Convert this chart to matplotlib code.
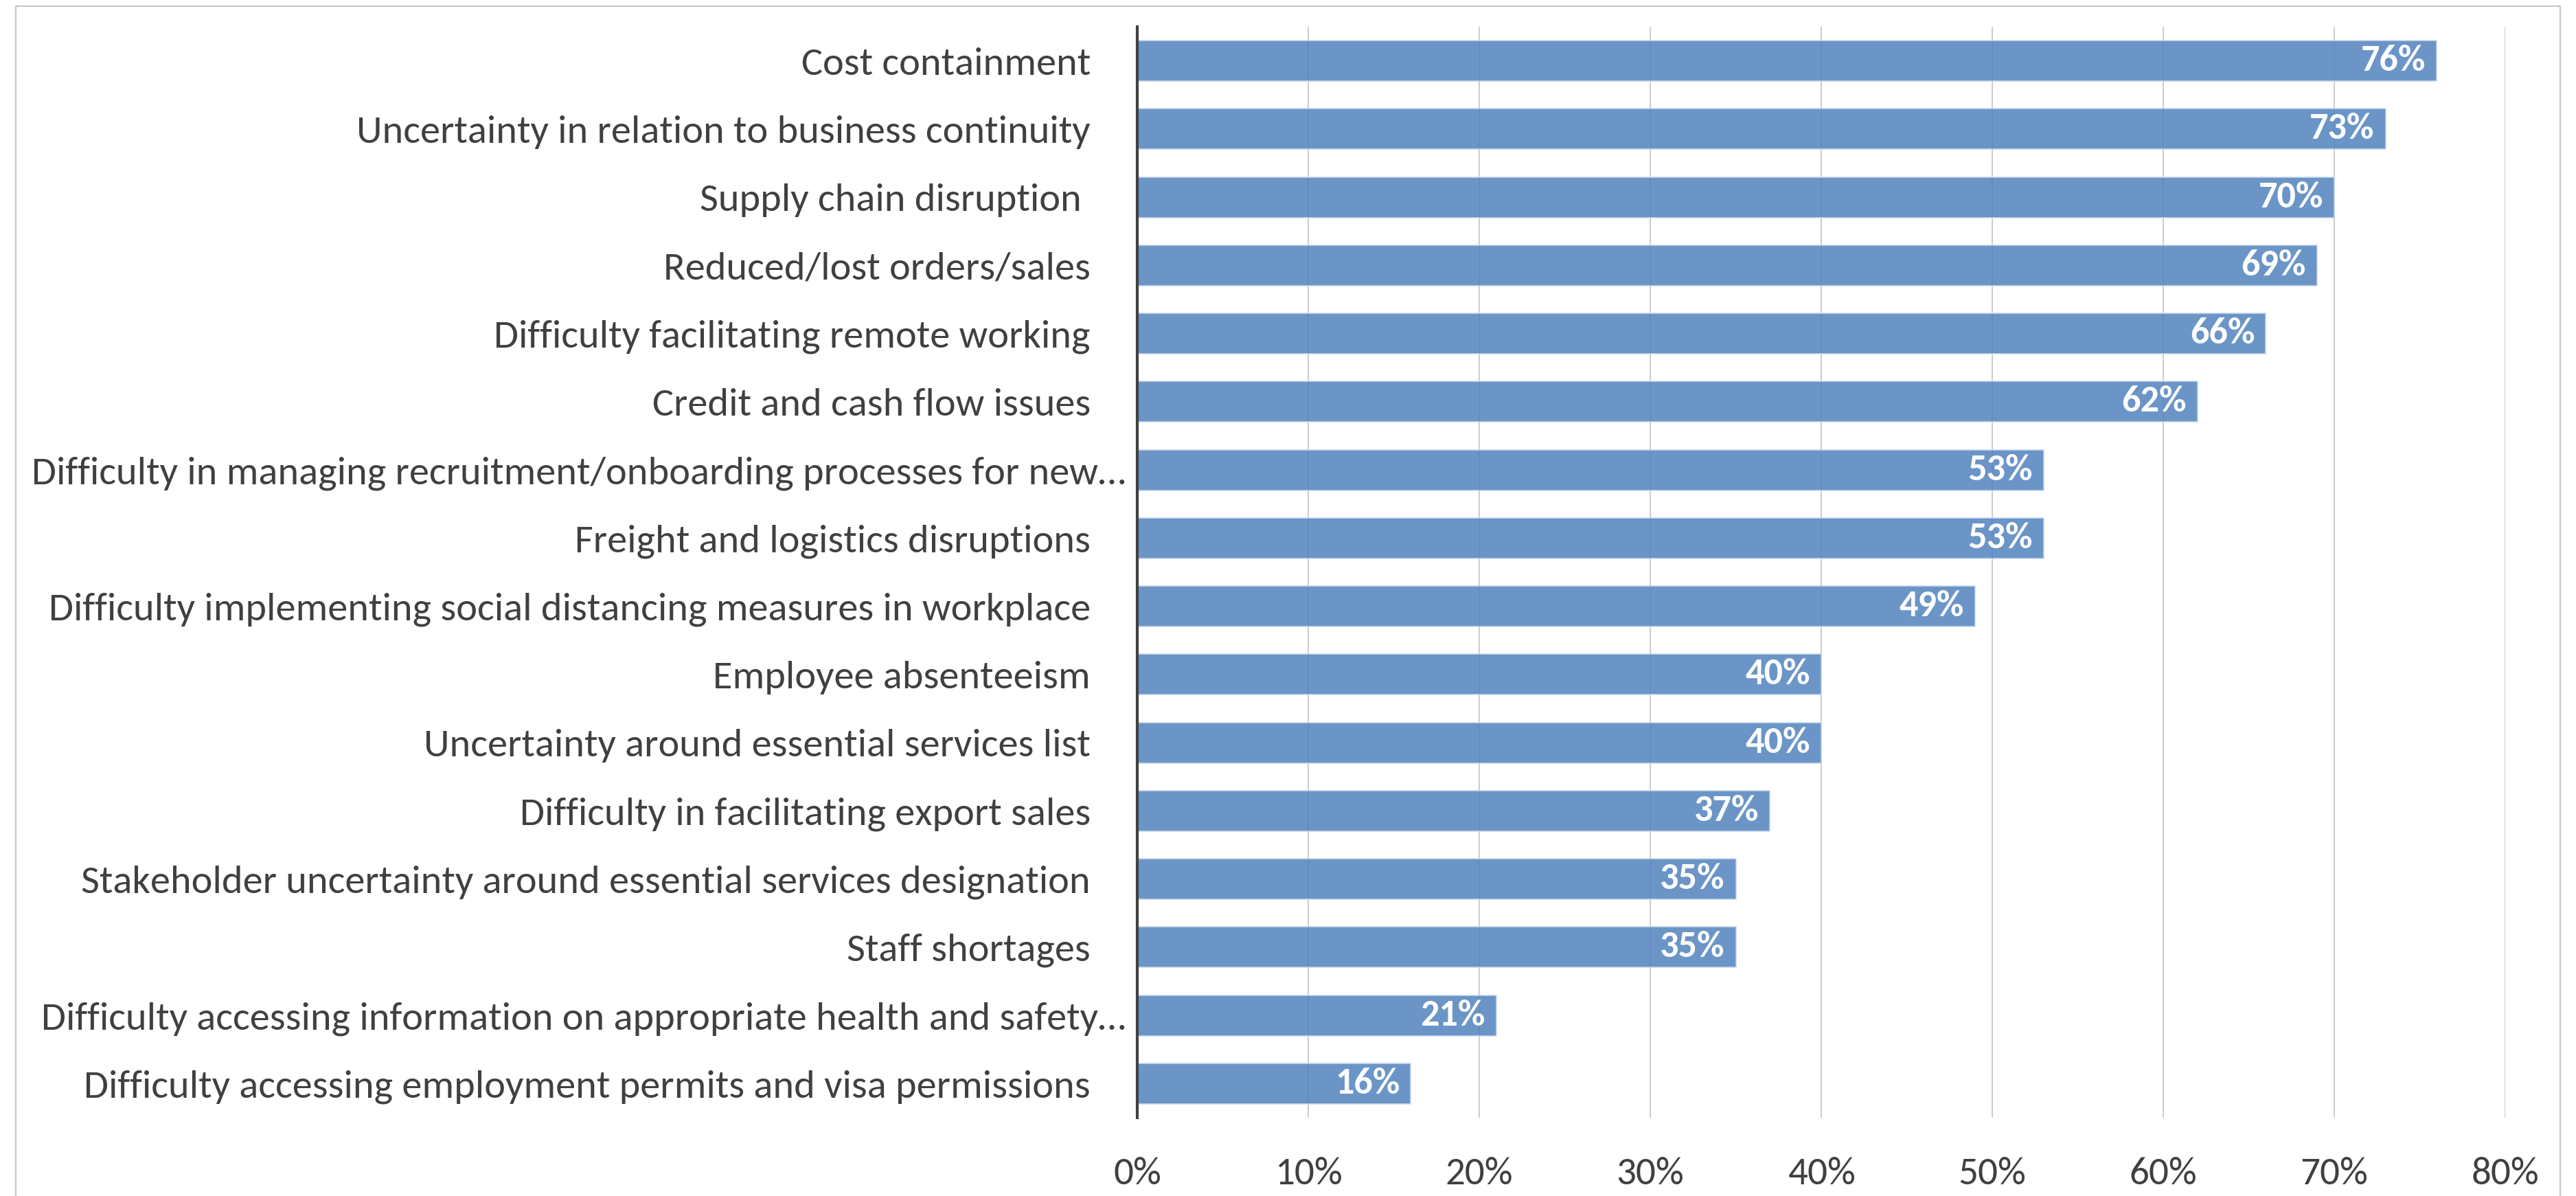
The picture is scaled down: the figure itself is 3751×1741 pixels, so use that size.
import matplotlib
matplotlib.use("Agg")
import matplotlib.pyplot as plt
from matplotlib import font_manager
from matplotlib.patches import Rectangle
from matplotlib.transforms import ScaledTranslation
import numpy as np

categories = [
    "Cost containment",
    "Uncertainty in relation to business continuity",
    "Supply chain disruption ",
    "Reduced/lost orders/sales",
    "Difficulty facilitating remote working",
    "Credit and cash flow issues",
    "Difficulty in managing recruitment/onboarding processes for new\u2026",
    "Freight and logistics disruptions",
    "Difficulty implementing social distancing measures in workplace",
    "Employee absenteeism",
    "Uncertainty around essential services list",
    "Difficulty in facilitating export sales",
    "Stakeholder uncertainty around essential services designation",
    "Staff shortages",
    "Difficulty accessing information on appropriate health and safety\u2026",
    "Difficulty accessing employment permits and visa permissions",
]
values = [76, 73, 70, 69, 66, 62, 53, 53, 49, 40, 40, 37, 35, 35, 21, 16]
xticks = [0, 10, 20, 30, 40, 50, 60, 70, 80]
xtick_labels = ["0%", "10%", "20%", "30%", "40%", "50%", "60%", "70%", "80%"]

available = {f.name for f in font_manager.fontManager.ttflist}
family = "DejaVu Sans"
for cand in ["Carlito", "Calibri", "Lato", "Liberation Sans"]:
    if cand in available:
        family = cand
        break
plt.rcParams["font.family"] = [family, "DejaVu Sans"]

W, H, DPI = 3751, 1741, 100
fig = plt.figure(figsize=(W / DPI, H / DPI), dpi=DPI)
fig.patch.set_facecolor("white")

left, right = 1656 / W, 3648 / W
top, bottom = 1 - 39 / H, 1 - 1627 / H
ax = fig.add_axes([left, bottom, right - left, top - bottom])

y = np.arange(len(categories))
bars = ax.barh(y, values, height=0.594, color=(0.31, 0.506, 0.741, 0.84),
               edgecolor="#C9D8EC", linewidth=1.1, zorder=2)

ax.set_xlim(0, 80)
ax.set_ylim(len(categories) - 0.5, -0.5)
ax.set_xticks(xticks)
ax.set_xticklabels(xtick_labels)
ax.set_yticks(y)
ax.set_yticklabels(categories)

ax.xaxis.grid(True, color="#C4C4C4", linewidth=1.2, zorder=0)
ax.set_axisbelow(True)
for s in ["top", "right", "bottom"]:
    ax.spines[s].set_visible(False)
ax.spines["left"].set_color("#404040")
ax.spines["left"].set_linewidth(3.0)
ax.spines["left"].set_zorder(3)

ax.tick_params(axis="both", length=0, colors="#404040")
ax.tick_params(axis="y", pad=49, labelsize=42)
ax.tick_params(axis="x", pad=41, labelsize=41)

# truncated labels sit closer to the axis
for lbl in ax.get_yticklabels():
    if lbl.get_text().endswith("\u2026"):
        lbl.set_transform(lbl.get_transform() + ScaledTranslation(51 / DPI, 0, fig.dpi_scale_trans))

for b, v in zip(bars, values):
    ax.text(v, b.get_y() + b.get_height() / 2, f"{v}%",
            ha="right", va="center", color="white", fontweight="bold",
            fontsize=39, zorder=4,
            transform=ax.transData + ScaledTranslation(-16 / DPI, 0, fig.dpi_scale_trans))

# outer chart border
fig.patches.append(Rectangle((23 / W, -0.05), (3728 - 23) / W, 1.05 - 9 / H,
                             transform=fig.transFigure, fill=False,
                             edgecolor="#C8C8C8", linewidth=1.6, zorder=0))

fig.savefig("out.png", dpi=DPI, facecolor="white")
